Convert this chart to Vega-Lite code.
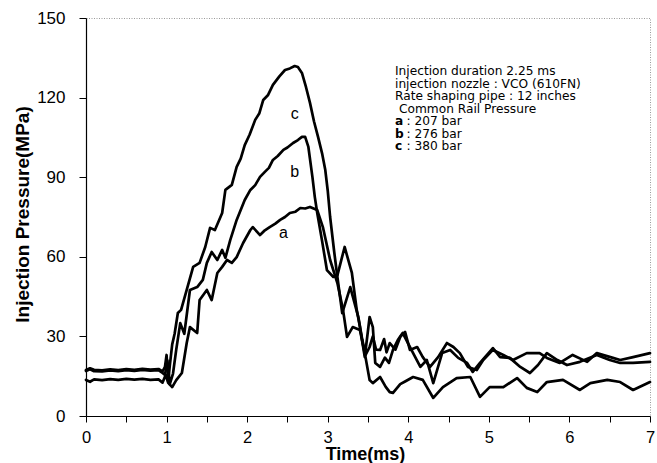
{
  "$schema": "https://vega.github.io/schema/vega-lite/v6.json",
  "width": 564,
  "height": 398,
  "autosize": {"type": "none"},
  "padding": {"left": 86, "top": 18, "right": 7, "bottom": 47},
  "background": "white",
  "config": {
    "font": "Liberation Sans",
    "view": {"stroke": "#9a9a9a", "strokeDash": [1, 1.5], "strokeWidth": 1}
  },
  "datasets": {
    "pressure": [
      {"curve": "a", "t": 0, "p": 13.6}, {"curve": "a", "t": 0.05, "p": 12.9}, {"curve": "a", "t": 0.1, "p": 13.8}, {"curve": "a", "t": 0.2, "p": 13.5}, {"curve": "a", "t": 0.3, "p": 13.9}, {"curve": "a", "t": 0.4, "p": 13.6}, {"curve": "a", "t": 0.5, "p": 14}, {"curve": "a", "t": 0.6, "p": 13.7}, {"curve": "a", "t": 0.7, "p": 14}, {"curve": "a", "t": 0.8, "p": 13.6}, {"curve": "a", "t": 0.9, "p": 13.8}, {"curve": "a", "t": 0.95, "p": 12.6}, {"curve": "a", "t": 0.99, "p": 15.5}, {"curve": "a", "t": 1.02, "p": 12.5}, {"curve": "a", "t": 1.07, "p": 10.9}, {"curve": "a", "t": 1.12, "p": 13.5}, {"curve": "a", "t": 1.19, "p": 16.2}, {"curve": "a", "t": 1.25, "p": 27.5}, {"curve": "a", "t": 1.29, "p": 33.5}, {"curve": "a", "t": 1.38, "p": 31.3}, {"curve": "a", "t": 1.41, "p": 43.7}, {"curve": "a", "t": 1.5, "p": 47.5}, {"curve": "a", "t": 1.56, "p": 43.7}, {"curve": "a", "t": 1.63, "p": 53.9}, {"curve": "a", "t": 1.69, "p": 56.2}, {"curve": "a", "t": 1.75, "p": 58.8}, {"curve": "a", "t": 1.81, "p": 57.7}, {"curve": "a", "t": 1.87, "p": 59.9}, {"curve": "a", "t": 1.95, "p": 65.2}, {"curve": "a", "t": 2.04, "p": 70.1}, {"curve": "a", "t": 2.07, "p": 71.2}, {"curve": "a", "t": 2.16, "p": 68.2}, {"curve": "a", "t": 2.22, "p": 70}, {"curve": "a", "t": 2.28, "p": 71.2}, {"curve": "a", "t": 2.35, "p": 72.5}, {"curve": "a", "t": 2.41, "p": 73.9}, {"curve": "a", "t": 2.47, "p": 75}, {"curve": "a", "t": 2.53, "p": 76.5}, {"curve": "a", "t": 2.6, "p": 77}, {"curve": "a", "t": 2.66, "p": 78.4}, {"curve": "a", "t": 2.72, "p": 78.2}, {"curve": "a", "t": 2.78, "p": 78.8}, {"curve": "a", "t": 2.87, "p": 77.6}, {"curve": "a", "t": 2.94, "p": 71.2}, {"curve": "a", "t": 3.03, "p": 58.8}, {"curve": "a", "t": 3.12, "p": 50.1}, {"curve": "a", "t": 3.19, "p": 40}, {"curve": "a", "t": 3.24, "p": 29.8}, {"curve": "a", "t": 3.31, "p": 33.5}, {"curve": "a", "t": 3.4, "p": 32.4}, {"curve": "a", "t": 3.47, "p": 22}, {"curve": "a", "t": 3.52, "p": 13.6}, {"curve": "a", "t": 3.56, "p": 12.4}, {"curve": "a", "t": 3.65, "p": 14.7}, {"curve": "a", "t": 3.72, "p": 11}, {"curve": "a", "t": 3.77, "p": 9}, {"curve": "a", "t": 3.81, "p": 8.7}, {"curve": "a", "t": 3.9, "p": 12}, {"curve": "a", "t": 3.96, "p": 13}, {"curve": "a", "t": 4.06, "p": 14.7}, {"curve": "a", "t": 4.18, "p": 13.6}, {"curve": "a", "t": 4.31, "p": 6.8}, {"curve": "a", "t": 4.43, "p": 10.9}, {"curve": "a", "t": 4.6, "p": 14.3}, {"curve": "a", "t": 4.77, "p": 14.7}, {"curve": "a", "t": 4.89, "p": 7.2}, {"curve": "a", "t": 5.01, "p": 10.9}, {"curve": "a", "t": 5.18, "p": 10.9}, {"curve": "a", "t": 5.35, "p": 14.3}, {"curve": "a", "t": 5.47, "p": 10.6}, {"curve": "a", "t": 5.6, "p": 9}, {"curve": "a", "t": 5.72, "p": 12.8}, {"curve": "a", "t": 5.92, "p": 13.6}, {"curve": "a", "t": 6.13, "p": 9.8}, {"curve": "a", "t": 6.26, "p": 12.4}, {"curve": "a", "t": 6.47, "p": 13.6}, {"curve": "a", "t": 6.63, "p": 12.8}, {"curve": "a", "t": 6.79, "p": 9.8}, {"curve": "a", "t": 7.0, "p": 12.8},

      {"curve": "b", "t": 0, "p": 17.0}, {"curve": "b", "t": 0.05, "p": 17.6}, {"curve": "b", "t": 0.1, "p": 16.9}, {"curve": "b", "t": 0.2, "p": 16.8}, {"curve": "b", "t": 0.3, "p": 17.2}, {"curve": "b", "t": 0.4, "p": 16.9}, {"curve": "b", "t": 0.5, "p": 17.3}, {"curve": "b", "t": 0.6, "p": 17.0}, {"curve": "b", "t": 0.7, "p": 17.4}, {"curve": "b", "t": 0.8, "p": 17.1}, {"curve": "b", "t": 0.9, "p": 17.3}, {"curve": "b", "t": 0.95, "p": 16.2}, {"curve": "b", "t": 0.98, "p": 15.5}, {"curve": "b", "t": 1.01, "p": 21}, {"curve": "b", "t": 1.04, "p": 12}, {"curve": "b", "t": 1.08, "p": 16}, {"curve": "b", "t": 1.12, "p": 25}, {"curve": "b", "t": 1.17, "p": 35}, {"curve": "b", "t": 1.22, "p": 31}, {"curve": "b", "t": 1.29, "p": 47.5}, {"curve": "b", "t": 1.38, "p": 48.6}, {"curve": "b", "t": 1.45, "p": 51.3}, {"curve": "b", "t": 1.5, "p": 57.7}, {"curve": "b", "t": 1.56, "p": 61.8}, {"curve": "b", "t": 1.63, "p": 58.8}, {"curve": "b", "t": 1.69, "p": 62.6}, {"curve": "b", "t": 1.73, "p": 59.6}, {"curve": "b", "t": 1.79, "p": 66.3}, {"curve": "b", "t": 1.87, "p": 73.9}, {"curve": "b", "t": 1.97, "p": 81.4}, {"curve": "b", "t": 2.04, "p": 85.2}, {"curve": "b", "t": 2.1, "p": 87}, {"curve": "b", "t": 2.16, "p": 90.1}, {"curve": "b", "t": 2.22, "p": 92}, {"curve": "b", "t": 2.27, "p": 93.5}, {"curve": "b", "t": 2.32, "p": 96.5}, {"curve": "b", "t": 2.38, "p": 98}, {"curve": "b", "t": 2.45, "p": 100.3}, {"curve": "b", "t": 2.5, "p": 101.2}, {"curve": "b", "t": 2.57, "p": 102.9}, {"curve": "b", "t": 2.63, "p": 104}, {"curve": "b", "t": 2.68, "p": 105.2}, {"curve": "b", "t": 2.72, "p": 105.2}, {"curve": "b", "t": 2.76, "p": 101.4}, {"curve": "b", "t": 2.81, "p": 90.1}, {"curve": "b", "t": 2.84, "p": 82.5}, {"curve": "b", "t": 2.87, "p": 76.5}, {"curve": "b", "t": 2.93, "p": 66}, {"curve": "b", "t": 2.99, "p": 55}, {"curve": "b", "t": 3.07, "p": 52.4}, {"curve": "b", "t": 3.12, "p": 53}, {"curve": "b", "t": 3.21, "p": 63.7}, {"curve": "b", "t": 3.3, "p": 53.9}, {"curve": "b", "t": 3.36, "p": 40}, {"curve": "b", "t": 3.4, "p": 33.5}, {"curve": "b", "t": 3.46, "p": 22.2}, {"curve": "b", "t": 3.52, "p": 37.3}, {"curve": "b", "t": 3.56, "p": 33.5}, {"curve": "b", "t": 3.59, "p": 20}, {"curve": "b", "t": 3.65, "p": 18.5}, {"curve": "b", "t": 3.71, "p": 22}, {"curve": "b", "t": 3.76, "p": 20}, {"curve": "b", "t": 3.81, "p": 24.9}, {"curve": "b", "t": 3.87, "p": 28.6}, {"curve": "b", "t": 3.93, "p": 31.3}, {"curve": "b", "t": 4.06, "p": 23.7}, {"curve": "b", "t": 4.15, "p": 18.5}, {"curve": "b", "t": 4.23, "p": 21.1}, {"curve": "b", "t": 4.31, "p": 12.4}, {"curve": "b", "t": 4.42, "p": 23.7}, {"curve": "b", "t": 4.52, "p": 24.9}, {"curve": "b", "t": 4.62, "p": 21.9}, {"curve": "b", "t": 4.73, "p": 20}, {"curve": "b", "t": 4.8, "p": 16.6}, {"curve": "b", "t": 4.89, "p": 20}, {"curve": "b", "t": 5.05, "p": 25.6}, {"curve": "b", "t": 5.14, "p": 22.2}, {"curve": "b", "t": 5.26, "p": 21.9}, {"curve": "b", "t": 5.39, "p": 18.5}, {"curve": "b", "t": 5.51, "p": 16.2}, {"curve": "b", "t": 5.61, "p": 19.2}, {"curve": "b", "t": 5.72, "p": 23.7}, {"curve": "b", "t": 5.85, "p": 21.1}, {"curve": "b", "t": 5.97, "p": 19.2}, {"curve": "b", "t": 6.13, "p": 20.4}, {"curve": "b", "t": 6.34, "p": 23}, {"curve": "b", "t": 6.5, "p": 21.1}, {"curve": "b", "t": 6.63, "p": 20}, {"curve": "b", "t": 6.79, "p": 20}, {"curve": "b", "t": 7.0, "p": 20.4},

      {"curve": "c", "t": 0, "p": 17.3}, {"curve": "c", "t": 0.05, "p": 18}, {"curve": "c", "t": 0.1, "p": 17.4}, {"curve": "c", "t": 0.2, "p": 17.2}, {"curve": "c", "t": 0.3, "p": 17.6}, {"curve": "c", "t": 0.4, "p": 17.3}, {"curve": "c", "t": 0.5, "p": 17.7}, {"curve": "c", "t": 0.6, "p": 17.4}, {"curve": "c", "t": 0.7, "p": 17.8}, {"curve": "c", "t": 0.8, "p": 17.5}, {"curve": "c", "t": 0.9, "p": 17.7}, {"curve": "c", "t": 0.95, "p": 16.8}, {"curve": "c", "t": 0.98, "p": 18.5}, {"curve": "c", "t": 1.0, "p": 23}, {"curve": "c", "t": 1.02, "p": 13}, {"curve": "c", "t": 1.04, "p": 19}, {"curve": "c", "t": 1.07, "p": 27}, {"curve": "c", "t": 1.1, "p": 31}, {"curve": "c", "t": 1.14, "p": 38.8}, {"curve": "c", "t": 1.18, "p": 40}, {"curve": "c", "t": 1.25, "p": 47.5}, {"curve": "c", "t": 1.33, "p": 56.2}, {"curve": "c", "t": 1.41, "p": 57.7}, {"curve": "c", "t": 1.48, "p": 63.7}, {"curve": "c", "t": 1.54, "p": 70.9}, {"curve": "c", "t": 1.6, "p": 70.1}, {"curve": "c", "t": 1.69, "p": 76.5}, {"curve": "c", "t": 1.73, "p": 85.2}, {"curve": "c", "t": 1.81, "p": 87.1}, {"curve": "c", "t": 1.87, "p": 93.9}, {"curve": "c", "t": 1.92, "p": 97}, {"curve": "c", "t": 1.97, "p": 102.1}, {"curve": "c", "t": 2.03, "p": 106}, {"curve": "c", "t": 2.1, "p": 111.6}, {"curve": "c", "t": 2.15, "p": 114}, {"curve": "c", "t": 2.2, "p": 119.1}, {"curve": "c", "t": 2.26, "p": 121}, {"curve": "c", "t": 2.32, "p": 124.8}, {"curve": "c", "t": 2.4, "p": 128}, {"curve": "c", "t": 2.47, "p": 130.4}, {"curve": "c", "t": 2.53, "p": 131}, {"curve": "c", "t": 2.59, "p": 131.9}, {"curve": "c", "t": 2.63, "p": 131.5}, {"curve": "c", "t": 2.68, "p": 129.3}, {"curve": "c", "t": 2.73, "p": 124}, {"curve": "c", "t": 2.78, "p": 118}, {"curve": "c", "t": 2.83, "p": 111}, {"curve": "c", "t": 2.88, "p": 105.2}, {"curve": "c", "t": 2.93, "p": 99}, {"curve": "c", "t": 2.97, "p": 92.7}, {"curve": "c", "t": 3.0, "p": 85}, {"curve": "c", "t": 3.03, "p": 75}, {"curve": "c", "t": 3.08, "p": 62}, {"curve": "c", "t": 3.12, "p": 52.4}, {"curve": "c", "t": 3.18, "p": 38.8}, {"curve": "c", "t": 3.28, "p": 48.6}, {"curve": "c", "t": 3.38, "p": 37.3}, {"curve": "c", "t": 3.43, "p": 28.6}, {"curve": "c", "t": 3.47, "p": 23}, {"curve": "c", "t": 3.52, "p": 26}, {"curve": "c", "t": 3.56, "p": 30}, {"curve": "c", "t": 3.6, "p": 25}, {"curve": "c", "t": 3.65, "p": 24.9}, {"curve": "c", "t": 3.7, "p": 29}, {"curve": "c", "t": 3.73, "p": 24}, {"curve": "c", "t": 3.77, "p": 27.5}, {"curve": "c", "t": 3.84, "p": 25}, {"curve": "c", "t": 3.9, "p": 29.8}, {"curve": "c", "t": 3.96, "p": 31.7}, {"curve": "c", "t": 4.02, "p": 24.9}, {"curve": "c", "t": 4.11, "p": 26}, {"curve": "c", "t": 4.18, "p": 22.2}, {"curve": "c", "t": 4.27, "p": 18.5}, {"curve": "c", "t": 4.37, "p": 22.2}, {"curve": "c", "t": 4.48, "p": 27.5}, {"curve": "c", "t": 4.56, "p": 26}, {"curve": "c", "t": 4.64, "p": 23.7}, {"curve": "c", "t": 4.74, "p": 18.5}, {"curve": "c", "t": 4.85, "p": 17.3}, {"curve": "c", "t": 4.93, "p": 21.1}, {"curve": "c", "t": 5.05, "p": 24.9}, {"curve": "c", "t": 5.18, "p": 23}, {"curve": "c", "t": 5.3, "p": 21.1}, {"curve": "c", "t": 5.47, "p": 23.7}, {"curve": "c", "t": 5.63, "p": 23.7}, {"curve": "c", "t": 5.72, "p": 21.9}, {"curve": "c", "t": 5.88, "p": 20}, {"curve": "c", "t": 6.04, "p": 23}, {"curve": "c", "t": 6.22, "p": 20.4}, {"curve": "c", "t": 6.34, "p": 23.7}, {"curve": "c", "t": 6.54, "p": 21.9}, {"curve": "c", "t": 6.63, "p": 21.1}, {"curve": "c", "t": 6.79, "p": 22.2}, {"curve": "c", "t": 7.0, "p": 23.7}
    ]
  },
  "layer": [
    {
      "data": {"name": "pressure"},
      "mark": {"type": "line", "color": "black", "strokeWidth": 2.7, "strokeJoin": "round", "strokeCap": "round"},
      "encoding": {
        "x": {
          "field": "t", "type": "quantitative",
          "scale": {"domain": [0, 7], "nice": false},
          "axis": {
            "values": [0, 0.5, 1, 1.5, 2, 2.5, 3, 3.5, 4, 4.5, 5, 5.5, 6, 6.5, 7],
            "labelExpr": "datum.value % 1 === 0 ? format(datum.value, 'd') : ''",
            "title": "Time(ms)", "titleFontSize": 18, "titleFontWeight": "bold", "titleColor": "black",
            "titleY": 43, "titleX": 279, "titleBaseline": "alphabetic",
            "labelFontSize": 16.5, "labelColor": "black", "labelPadding": 7, "labelFlush": false, "labelOverlap": false,
            "tickSize": 6, "tickColor": "black", "domainColor": "black", "domainWidth": 1.2, "grid": false
          }
        },
        "y": {
          "field": "p", "type": "quantitative",
          "scale": {"domain": [0, 150], "nice": false},
          "axis": {
            "values": [0, 30, 60, 90, 120, 150],
            "title": "Injection Pressure(MPa)", "titleFontSize": 19, "titleFontWeight": "bold", "titleColor": "black",
            "titleAngle": -90, "titleX": -58, "titleY": 196, "titleBaseline": "alphabetic", "titleAlign": "center",
            "labelFontSize": 17, "labelColor": "black", "labelPadding": 14, "labelFlush": false, "labelOverlap": false,
            "tickSize": 7, "tickColor": "black", "domainColor": "black", "domainWidth": 1.2, "grid": false
          }
        },
        "detail": {"field": "curve"}
      }
    },
    {
      "data": {"values": [{}]},
      "mark": {"type": "text", "text": "c", "fontSize": 16, "align": "center", "baseline": "middle", "color": "black"},
      "encoding": {"x": {"datum": 2.59}, "y": {"datum": 113.7}}
    },
    {
      "data": {"values": [{}]},
      "mark": {"type": "text", "text": "b", "fontSize": 16, "align": "center", "baseline": "middle", "color": "black"},
      "encoding": {"x": {"datum": 2.59}, "y": {"datum": 92.1}}
    },
    {
      "data": {"values": [{}]},
      "mark": {"type": "text", "text": "a", "fontSize": 16, "align": "center", "baseline": "middle", "color": "black"},
      "encoding": {"x": {"datum": 2.45}, "y": {"datum": 68.9}}
    },
    {
      "data": {"values": [{}]},
      "mark": {"type": "text", "text": ["Injection duration 2.25 ms", "injection nozzle : VCO (610FN)", "Rate shaping pipe : 12 inches"], "lineHeight": 12.4, "font": "DejaVu Sans", "fontSize": 12.2, "align": "left", "baseline": "alphabetic", "color": "black"},
      "encoding": {"x": {"datum": 3.835}, "y": {"datum": 128.4}}
    },
    {
      "data": {"values": [{}]},
      "mark": {"type": "text", "text": "Common Rail Pressure", "font": "DejaVu Sans", "fontSize": 12.2, "align": "left", "baseline": "alphabetic", "color": "black"},
      "encoding": {"x": {"datum": 3.885}, "y": {"datum": 114.3}}
    },
    {
      "data": {"values": [{}]},
      "mark": {"type": "text", "text": ["a", "b", "c"], "lineHeight": 12.4, "font": "DejaVu Sans", "fontSize": 12.2, "fontWeight": "bold", "align": "left", "baseline": "alphabetic", "color": "black"},
      "encoding": {"x": {"datum": 3.835}, "y": {"datum": 109.6}}
    },
    {
      "data": {"values": [{}]},
      "mark": {"type": "text", "text": [": 207 bar", ": 276 bar", ": 380 bar"], "lineHeight": 12.4, "dx": 11.5, "font": "DejaVu Sans", "fontSize": 12.2, "align": "left", "baseline": "alphabetic", "color": "black"},
      "encoding": {"x": {"datum": 3.835}, "y": {"datum": 109.6}}
    }
  ]
}
